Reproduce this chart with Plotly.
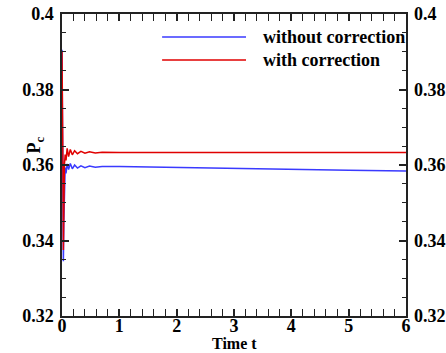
import plotly.graph_objects as go

t_blue = [0, 0.008, 0.016, 0.024, 0.032, 0.042, 0.055, 0.07, 0.09, 0.115, 0.145, 0.18, 0.22, 0.27, 0.33, 0.40, 0.48, 0.58, 0.7, 1.0, 2.0, 3.0, 4.0, 5.0, 6.0]
p_blue = [0.3905, 0.378, 0.355, 0.3345, 0.345, 0.356, 0.3593, 0.3578, 0.3603, 0.3588, 0.3604, 0.3590, 0.3600, 0.3592, 0.3598, 0.3593, 0.3597, 0.3594, 0.3596, 0.3596, 0.3593, 0.3590, 0.3588, 0.3586, 0.3584]

t_red = [0, 0.008, 0.016, 0.024, 0.032, 0.042, 0.055, 0.07, 0.09, 0.115, 0.145, 0.18, 0.22, 0.27, 0.33, 0.40, 0.48, 0.58, 0.7, 1.0, 2.0, 3.0, 4.0, 5.0, 6.0]
p_red = [0.3900, 0.381, 0.360, 0.3375, 0.350, 0.3600, 0.3628, 0.3612, 0.3644, 0.3622, 0.3641, 0.3627, 0.3638, 0.3630, 0.3636, 0.3631, 0.3635, 0.3632, 0.3634, 0.3633, 0.3633, 0.3633, 0.3633, 0.3633, 0.3633]

series_names = ["without correction", "with correction"]
x_ticks = [0, 1, 2, 3, 4, 5, 6]
x_tick_text = ["0", "1", "2", "3", "4", "5", "6"]
y_ticks = [0.32, 0.34, 0.36, 0.38, 0.40]
y_tick_text = ["0.32", "0.34", "0.36", "0.38", "0.4"]

BLUE = "#3a3aff"
RED = "#e00000"
FONT = "Liberation Serif"

fig = go.Figure()
fig.add_trace(go.Scatter(x=t_blue, y=p_blue, mode="lines", name=series_names[0],
                         line=dict(color=BLUE, width=1.5), showlegend=False))
fig.add_trace(go.Scatter(x=t_red, y=p_red, mode="lines", name=series_names[1],
                         line=dict(color=RED, width=1.5), showlegend=False))
# invisible trace to drive the right-hand axis
fig.add_trace(go.Scatter(x=[0], y=[0.36], yaxis="y2", mode="markers",
                         marker=dict(opacity=0), showlegend=False, hoverinfo="skip"))

tickfont = dict(family=FONT, size=18, color="black", weight="bold")
titlefont = dict(family=FONT, size=18, color="black", weight="bold")
xtitlefont = dict(family=FONT, size=16, color="black", weight="bold")

fig.update_layout(
    width=446, height=353,
    margin=dict(l=62, r=40, t=14, b=37),
    paper_bgcolor="white", plot_bgcolor="white",
    xaxis=dict(range=[0, 6], tickvals=x_ticks, ticktext=x_tick_text,
               ticks="inside", ticklen=7, tickwidth=1.5, tickcolor="#222",
               minor=dict(dtick=0.2, ticks="inside", ticklen=4, tickwidth=1, tickcolor="#222"),
               showline=True, linecolor="#222", linewidth=1.5, mirror="allticks",
               showgrid=False, zeroline=False, tickfont=tickfont, ticklabelstandoff=-7,
               automargin=False),
    yaxis=dict(range=[0.32, 0.40], tickvals=y_ticks, ticktext=y_tick_text,
               ticks="inside", ticklen=7, tickwidth=1.5, tickcolor="#222",
               minor=dict(dtick=0.005, ticks="inside", ticklen=4, tickwidth=1, tickcolor="#222"),
               showline=True, linecolor="#222", linewidth=1.5, mirror="allticks",
               showgrid=False, zeroline=False, tickfont=tickfont, ticklabelstandoff=3,
               automargin=False),
    yaxis2=dict(range=[0.32, 0.40], tickvals=y_ticks, ticktext=y_tick_text,
                overlaying="y", side="right", ticks="", showline=False,
                showgrid=False, zeroline=False, tickfont=tickfont, ticklabelstandoff=7,
                automargin=False),
)

# axis titles placed like the reference
fig.add_annotation(xref="paper", yref="paper", x=-0.078, y=0.565, text="P<sub>c</sub>",
                   textangle=-90, showarrow=False, xanchor="center", yanchor="middle",
                   font=titlefont)
fig.add_annotation(xref="paper", yref="paper", x=0.5, y=-0.091, text="Time t",
                   showarrow=False, xanchor="center", yanchor="middle", font=xtitlefont)

# legend drawn as sample lines + text
leg_y = [0.924, 0.848]
for name, col, yy in zip(series_names, [BLUE, RED], leg_y):
    fig.add_shape(type="line", xref="paper", yref="paper", x0=0.291, x1=0.535, y0=yy, y1=yy,
                  line=dict(color=col, width=1.5))
    fig.add_annotation(xref="paper", yref="paper", x=0.578, y=yy, text=name, showarrow=False,
                       xanchor="left", yanchor="middle", font=titlefont)

fig.write_html("out.html")
